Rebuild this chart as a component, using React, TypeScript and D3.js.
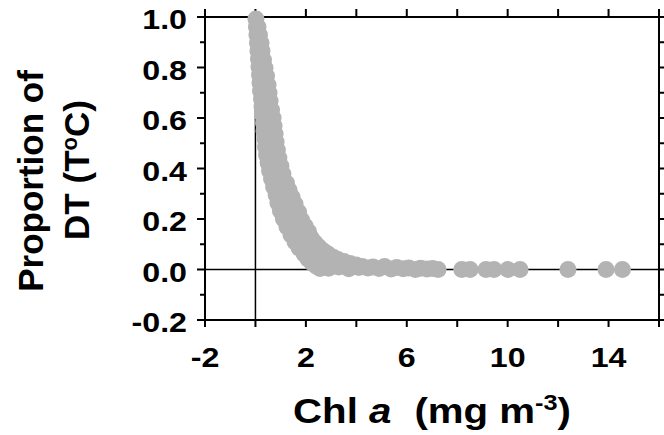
import React from 'react';
import * as d3 from 'd3';

const W = 664;
const H = 435;

// steep (left / lower) edge of the point cloud
const lowerChl = [0.02, 0.04, 0.06, 0.08, 0.1, 0.12, 0.14, 0.16, 0.18, 0.2, 0.24, 0.26, 0.28, 0.32, 0.34, 0.38, 0.4, 0.44, 0.5, 0.56, 0.64, 0.72, 0.82, 0.89, 0.99, 1.11, 1.25, 1.41, 1.57, 1.73, 1.93, 2.08, 2.24, 2.4, 2.56];
const lowerProp = [0.992, 0.96, 0.929, 0.897, 0.865, 0.834, 0.802, 0.77, 0.739, 0.707, 0.675, 0.644, 0.612, 0.58, 0.548, 0.517, 0.485, 0.453, 0.422, 0.39, 0.358, 0.327, 0.295, 0.263, 0.232, 0.2, 0.168, 0.137, 0.109, 0.085, 0.061, 0.042, 0.026, 0.014, 0.004];

// slower decaying (right / upper) edge
const upperChl = [0.1, 0.16, 0.22, 0.26, 0.32, 0.38, 0.44, 0.5, 0.54, 0.58, 0.64, 0.7, 0.74, 0.78, 0.82, 0.87, 0.93, 1.01, 1.09, 1.23, 1.33, 1.45, 1.57, 1.71, 1.83, 1.97, 2.11, 2.21, 2.37, 2.52, 2.7, 2.88, 3.08, 3.27, 3.51, 3.75, 3.99, 4.23, 4.46];
const upperProp = [0.96, 0.929, 0.897, 0.865, 0.83, 0.798, 0.766, 0.731, 0.699, 0.667, 0.632, 0.6, 0.568, 0.537, 0.505, 0.473, 0.442, 0.41, 0.378, 0.343, 0.315, 0.287, 0.259, 0.228, 0.196, 0.172, 0.149, 0.125, 0.105, 0.089, 0.073, 0.061, 0.049, 0.04, 0.032, 0.024, 0.018, 0.012, 0.006];

// points inside the band
const midChl = [0.46, 0.54, 0.64, 0.82, 1.03, 1.25, 1.47, 1.73, 1.95, 2.18, 2.44, 2.76, 3.08, 2.9, 3.3, 3.7, 4.1];
const midProp = [0.632, 0.552, 0.473, 0.394, 0.315, 0.255, 0.196, 0.149, 0.109, 0.077, 0.053, 0.034, 0.018, 0.005, 0.01, 0.003, 0.008];

// tail along zero
const tailChl = [4.66, 4.9, 5.12, 5.38, 5.6, 5.86, 6.08, 6.34, 6.55, 6.8, 7.02, 7.24, 8.18, 8.51, 9.14, 9.46, 10.01, 10.49, 12.39, 13.9, 14.55];
const tailProp = [0.01, 0.004, 0.012, 0.002, 0.008, 0.003, 0.006, 0, 0.005, 0.002, 0.004, 0, 0, 0, 0, 0, 0, 0, 0, 0, 0];

const xTickLabels = [-2, 2, 6, 10, 14];
const yTickLabels = [-0.2, 0, 0.2, 0.4, 0.6, 0.8, 1.0];

const FONT = '"Liberation Sans", Arial, Helvetica, sans-serif';

export default function App() {
    const x = d3.scaleLinear().domain([-2, 16]).range([205, 659]);
    const y = d3.scaleLinear().domain([-0.2, 1.0]).range([320, 17]);

    const series: [number[], number[]][] = [
        [lowerChl, lowerProp],
        [upperChl, upperProp],
        [midChl, midProp],
        [tailChl, tailProp],
    ];
    const points = series.flatMap(([xs, ys]) => xs.map((v, i) => [v, ys[i]]));

    const xMajor = d3.range(-2, 16.01, 2);
    const yMinor = d3.range(0, 13).map((i) => Math.round((-0.2 + i * 0.1) * 10) / 10);
    const [x0, x1] = x.range();
    const [yb, yt] = y.range();

    return (
        <svg width={W} height={H} style={{ position: 'absolute', left: 0, top: 0, background: '#fff' }} fontFamily={FONT} fontWeight="bold">
            {/* frame */}
            <rect x={x0} y={yt} width={x1 - x0} height={yb - yt} fill="none" stroke="#000" strokeWidth={2} />
            {/* zero lines */}
            <line x1={x0} x2={x1} y1={y(0)} y2={y(0)} stroke="#000" strokeWidth={1.5} />
            <line x1={x(0)} x2={x(0)} y1={yt} y2={yb} stroke="#000" strokeWidth={1.5} />

            {/* ticks */}
            {xMajor.map((t) => (
                <g key={'xt' + t} stroke="#000" strokeWidth={2}>
                    <line x1={x(t)} x2={x(t)} y1={yb} y2={yb + 7} />
                    <line x1={x(t)} x2={x(t)} y1={yt} y2={yt - 8} />
                </g>
            ))}
            {yMinor.map((t) => {
                const major = Math.round(t * 10) % 2 === 0;
                return (
                    <g key={'yt' + t} stroke="#000" strokeWidth={2}>
                        <line x1={x0 - (major ? 8 : 5)} x2={x0} y1={y(t)} y2={y(t)} />
                        <line x1={x1} x2={x1 + 5} y1={y(t)} y2={y(t)} />
                    </g>
                );
            })}

            {/* tick labels */}
            {xTickLabels.map((t) => (
                <text key={'xl' + t} transform={`translate(${x(t)},367) scale(1.15,1)`} textAnchor="middle" fontSize={28}>
                    {t}
                </text>
            ))}
            {yTickLabels.map((t) => (
                <text key={'yl' + t} transform={`translate(187,${y(t) + 12}) scale(1.15,1)`} textAnchor="end" fontSize={28}>
                    {t.toFixed(1)}
                </text>
            ))}

            {/* axis titles */}
            <text transform="translate(432,423) scale(1.15,1)" textAnchor="middle" fontSize={35}>
                Chl <tspan fontStyle="italic">a</tspan>
                <tspan dx={20}>(mg m</tspan>
                <tspan fontSize={22} dy={-13}>-3</tspan>
                <tspan dy={13}>)</tspan>
            </text>
            <text transform="translate(43,181) rotate(-90)" textAnchor="middle" fontSize={35}>
                Proportion of
            </text>
            <text transform="translate(89,170) rotate(-90)" textAnchor="middle" fontSize={35}>
                DT (T<tspan fontSize={22} dy={-12}>o</tspan>
                <tspan dy={12}>C)</tspan>
            </text>

            {/* data */}
            {points.map(([cx, cy], i) => (
                <circle key={i} cx={x(cx)} cy={y(cy)} r={8.5} fill="#b3b3b3" />
            ))}
        </svg>
    );
}
